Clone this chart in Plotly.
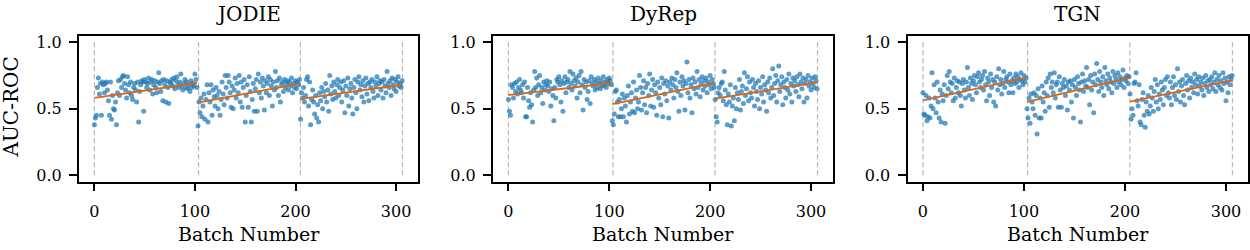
import numpy as np
import plotly.graph_objects as go

models = ["JODIE", "DyRep", "TGN"]

# AUC-ROC per batch, three training segments per model
jodie_seg1 = [0.38, 0.43, 0.45, 0.66, 0.73, 0.61, 0.69, 0.45, 0.70, 0.68,
              0.62, 0.69, 0.70, 0.64, 0.56, 0.45, 0.70, 0.42, 0.60, 0.50,
              0.49, 0.55, 0.38, 0.62, 0.71, 0.60, 0.72, 0.66, 0.74, 0.75,
              0.69, 0.64, 0.58, 0.74, 0.68, 0.62, 0.70, 0.60, 0.57, 0.66,
              0.69, 0.64, 0.55, 0.70, 0.40, 0.63, 0.68, 0.71, 0.70, 0.48,
              0.72, 0.70, 0.66, 0.69, 0.73, 0.64, 0.70, 0.72, 0.61, 0.68,
              0.71, 0.66, 0.62, 0.70, 0.77, 0.69, 0.63, 0.71, 0.56, 0.72,
              0.68, 0.55, 0.71, 0.66, 0.54, 0.70, 0.69, 0.72, 0.67, 0.73,
              0.65, 0.71, 0.74, 0.68, 0.66, 0.70, 0.76, 0.67, 0.64, 0.69,
              0.72, 0.66, 0.70, 0.65, 0.68, 0.63, 0.71, 0.66, 0.69, 0.67,
              0.76, 0.72, 0.66]
jodie_seg2 = [0.37, 0.55, 0.47, 0.58, 0.44, 0.52, 0.61, 0.42, 0.57, 0.68,
              0.40, 0.62, 0.55, 0.68, 0.45, 0.64, 0.59, 0.52, 0.66, 0.60,
              0.50, 0.63, 0.45, 0.57, 0.70, 0.61, 0.53, 0.75, 0.66, 0.58,
              0.75, 0.70, 0.62, 0.51, 0.67, 0.50, 0.64, 0.73, 0.58, 0.69,
              0.62, 0.75, 0.55, 0.70, 0.51, 0.66, 0.72, 0.40, 0.60, 0.68,
              0.51, 0.74, 0.63, 0.40, 0.57, 0.69, 0.48, 0.65, 0.72, 0.48,
              0.76, 0.62, 0.70, 0.58, 0.73, 0.67, 0.49, 0.71, 0.62, 0.69,
              0.74, 0.60, 0.72, 0.67, 0.52, 0.70, 0.64, 0.78, 0.66, 0.71,
              0.60, 0.73, 0.55, 0.68, 0.70, 0.63, 0.72, 0.66, 0.69, 0.71,
              0.64, 0.70, 0.67, 0.73, 0.62, 0.69, 0.66, 0.71, 0.65, 0.70,
              0.68, 0.72]
jodie_seg3 = [0.42, 0.62, 0.58, 0.66, 0.55, 0.60, 0.72, 0.74, 0.52, 0.70,
              0.38, 0.57, 0.64, 0.55, 0.46, 0.60, 0.43, 0.53, 0.40, 0.62,
              0.56, 0.66, 0.50, 0.63, 0.59, 0.69, 0.55, 0.64, 0.48, 0.75,
              0.61, 0.67, 0.57, 0.70, 0.63, 0.58, 0.68, 0.72, 0.60, 0.66,
              0.70, 0.55, 0.64, 0.71, 0.47, 0.67, 0.60, 0.73, 0.52, 0.65,
              0.69, 0.58, 0.46, 0.66, 0.72, 0.62, 0.50, 0.70, 0.74, 0.64,
              0.68, 0.59, 0.71, 0.55, 0.67, 0.73, 0.61, 0.69, 0.56, 0.70,
              0.66, 0.72, 0.63, 0.58, 0.70, 0.67, 0.74, 0.60, 0.69, 0.71,
              0.64, 0.70, 0.58, 0.72, 0.67, 0.62, 0.78, 0.69, 0.66, 0.71,
              0.60, 0.73, 0.68, 0.65, 0.72, 0.63, 0.70, 0.74, 0.67, 0.69,
              0.66, 0.71]

dyrep_seg1 = [0.57, 0.48, 0.45, 0.68, 0.66, 0.58, 0.69, 0.63, 0.70, 0.61,
              0.66, 0.72, 0.64, 0.62, 0.68, 0.58, 0.70, 0.44, 0.44, 0.66,
              0.56, 0.51, 0.62, 0.53, 0.40, 0.64, 0.78, 0.66, 0.73, 0.60,
              0.68, 0.75, 0.62, 0.66, 0.54, 0.70, 0.64, 0.68, 0.71, 0.67,
              0.63, 0.70, 0.52, 0.65, 0.60, 0.41, 0.66, 0.58, 0.72, 0.70,
              0.74, 0.68, 0.55, 0.71, 0.48, 0.69, 0.74, 0.62, 0.70, 0.72,
              0.66, 0.78, 0.69, 0.64, 0.76, 0.71, 0.67, 0.73, 0.58, 0.70,
              0.75, 0.62, 0.78, 0.68, 0.49, 0.72, 0.66, 0.70, 0.57, 0.63,
              0.71, 0.54, 0.74, 0.69, 0.67, 0.72, 0.64, 0.70, 0.66, 0.73,
              0.69, 0.65, 0.71, 0.67, 0.74, 0.68, 0.70, 0.66, 0.72, 0.69,
              0.73, 0.71, 0.68]
dyrep_seg2 = [0.41, 0.38, 0.46, 0.63, 0.64, 0.55, 0.44, 0.57, 0.44, 0.50,
              0.61, 0.44, 0.58, 0.52, 0.40, 0.60, 0.67, 0.46, 0.55, 0.62,
              0.48, 0.70, 0.47, 0.58, 0.64, 0.50, 0.55, 0.75, 0.66, 0.49,
              0.62, 0.71, 0.53, 0.66, 0.47, 0.69, 0.60, 0.76, 0.52, 0.64,
              0.72, 0.51, 0.68, 0.62, 0.45, 0.70, 0.58, 0.66, 0.53, 0.73,
              0.44, 0.69, 0.61, 0.71, 0.56, 0.67, 0.43, 0.70, 0.64, 0.73,
              0.68, 0.58, 0.72, 0.66, 0.77, 0.63, 0.48, 0.70, 0.60, 0.74,
              0.67, 0.71, 0.49, 0.69, 0.85, 0.62, 0.72, 0.58, 0.68, 0.47,
              0.73, 0.65, 0.70, 0.61, 0.78, 0.66, 0.72, 0.59, 0.69, 0.74,
              0.64, 0.71, 0.67, 0.73, 0.62, 0.70, 0.68, 0.75, 0.65, 0.72,
              0.69, 0.66]
dyrep_seg3 = [0.57, 0.44, 0.40, 0.62, 0.66, 0.60, 0.69, 0.70, 0.56, 0.78,
              0.64, 0.53, 0.38, 0.61, 0.55, 0.68, 0.37, 0.52, 0.58, 0.41,
              0.66, 0.50, 0.62, 0.57, 0.72, 0.49, 0.63, 0.67, 0.54, 0.77,
              0.60, 0.65, 0.74, 0.56, 0.70, 0.62, 0.58, 0.72, 0.66, 0.52,
              0.69, 0.63, 0.57, 0.71, 0.50, 0.66, 0.61, 0.74, 0.55, 0.68,
              0.64, 0.48, 0.70, 0.62, 0.73, 0.58, 0.66, 0.80, 0.60, 0.69,
              0.75, 0.55, 0.71, 0.82, 0.63, 0.68, 0.74, 0.53, 0.70, 0.66,
              0.58, 0.72, 0.64, 0.76, 0.61, 0.69, 0.55, 0.73, 0.67, 0.71,
              0.63, 0.74, 0.68, 0.59, 0.76, 0.70, 0.65, 0.73, 0.55, 0.69,
              0.72, 0.58, 0.75, 0.67, 0.70, 0.64, 0.73, 0.69, 0.66, 0.74,
              0.71, 0.65]

tgn_seg1 = [0.62, 0.46, 0.45, 0.60, 0.41, 0.44, 0.58, 0.43, 0.52, 0.77,
            0.50, 0.68, 0.58, 0.47, 0.70, 0.55, 0.43, 0.64, 0.40, 0.61,
            0.56, 0.68, 0.39, 0.60, 0.75, 0.65, 0.78, 0.70, 0.62, 0.69,
            0.56, 0.73, 0.58, 0.66, 0.71, 0.62, 0.70, 0.60, 0.52, 0.69,
            0.72, 0.64, 0.58, 0.70, 0.81, 0.66, 0.60, 0.73, 0.69, 0.57,
            0.71, 0.75, 0.68, 0.62, 0.74, 0.77, 0.70, 0.66, 0.72, 0.75,
            0.64, 0.78, 0.68, 0.56, 0.73, 0.70, 0.60, 0.76, 0.66, 0.72,
            0.55, 0.70, 0.52, 0.74, 0.64, 0.80, 0.68, 0.72, 0.61, 0.69,
            0.78, 0.66, 0.72, 0.74, 0.70, 0.62, 0.76, 0.68, 0.71, 0.62,
            0.73, 0.69, 0.76, 0.70, 0.74, 0.66, 0.72, 0.77, 0.71, 0.68,
            0.75, 0.70, 0.73]
tgn_seg2 = [0.50, 0.43, 0.58, 0.39, 0.61, 0.55, 0.50, 0.62, 0.45, 0.60,
            0.31, 0.65, 0.43, 0.58, 0.43, 0.67, 0.55, 0.62, 0.48, 0.70,
            0.60, 0.73, 0.51, 0.76, 0.66, 0.70, 0.62, 0.77, 0.58, 0.68,
            0.70, 0.51, 0.74, 0.64, 0.51, 0.69, 0.66, 0.72, 0.60, 0.67,
            0.49, 0.70, 0.64, 0.71, 0.55, 0.68, 0.43, 0.72, 0.66, 0.60,
            0.74, 0.69, 0.64, 0.40, 0.70, 0.76, 0.63, 0.71, 0.67, 0.81,
            0.66, 0.72, 0.53, 0.75, 0.64, 0.70, 0.47, 0.76, 0.68, 0.84,
            0.72, 0.63, 0.78, 0.70, 0.66, 0.74, 0.60, 0.81, 0.71, 0.68,
            0.76, 0.65, 0.73, 0.70, 0.62, 0.78, 0.69, 0.75, 0.72, 0.66,
            0.77, 0.70, 0.74, 0.68, 0.72, 0.79, 0.66, 0.73, 0.71, 0.75,
            0.69, 0.74]
tgn_seg3 = [0.61, 0.42, 0.50, 0.45, 0.69, 0.70, 0.77, 0.56, 0.52, 0.68,
            0.40, 0.38, 0.57, 0.62, 0.45, 0.36, 0.55, 0.48, 0.60, 0.46,
            0.52, 0.66, 0.58, 0.48, 0.63, 0.72, 0.55, 0.68, 0.50, 0.61,
            0.57, 0.70, 0.64, 0.53, 0.66, 0.72, 0.60, 0.74, 0.62, 0.58,
            0.70, 0.53, 0.66, 0.74, 0.60, 0.68, 0.57, 0.80, 0.63, 0.70,
            0.55, 0.67, 0.72, 0.60, 0.53, 0.69, 0.75, 0.64, 0.71, 0.58,
            0.73, 0.66, 0.70, 0.62, 0.76, 0.68, 0.72, 0.61, 0.74, 0.67,
            0.70, 0.64, 0.73, 0.60, 0.69, 0.75, 0.66, 0.71, 0.63, 0.72,
            0.68, 0.74, 0.65, 0.70, 0.77, 0.63, 0.72, 0.68, 0.75, 0.66,
            0.71, 0.64, 0.77, 0.69, 0.73, 0.56, 0.70, 0.62, 0.74, 0.68,
            0.72, 0.75]

segments = {
    "JODIE": [jodie_seg1, jodie_seg2, jodie_seg3],
    "DyRep": [dyrep_seg1, dyrep_seg2, dyrep_seg3],
    "TGN": [tgn_seg1, tgn_seg2, tgn_seg3],
}

# linear trend (start, end) per segment
trend_jodie = [(0.581, 0.693), (0.546, 0.688), (0.573, 0.680)]
trend_dyrep = [(0.603, 0.693), (0.534, 0.693), (0.576, 0.698)]
trend_tgn = [(0.563, 0.732), (0.551, 0.732), (0.553, 0.713)]
trends = {"JODIE": trend_jodie, "DyRep": trend_dyrep, "TGN": trend_tgn}

segment_boundaries = [0, 103.6, 204.8, 306.4]
x_ticks = [0, 100, 200, 300]
y_ticks = [0.0, 0.5, 1.0]
y_tick_text = ["0.0", "0.5", "1.0"]

W, H = 1250, 250
# axes boxes in pixels (left, right), shared top/bottom
boxes = [(79, 418), (493, 833), (907.5, 1248)]
box_top, box_bottom = 33.3, 183.3

FONT = "DejaVu Serif"
BLUE = "#1f77b4"
ORANGE = "#dd6512"

fig = go.Figure()
layout = dict(
    width=W, height=H, margin=dict(l=0, r=0, t=0, b=0),
    paper_bgcolor="white", plot_bgcolor="white", showlegend=False,
    font=dict(family=FONT, color="black", size=16),
)
annotations = []
shapes = []

for i, m in enumerate(models):
    sfx = "" if i == 0 else str(i + 1)
    xa, ya = "x" + sfx, "y" + sfx
    l, r = boxes[i]
    layout["xaxis" + sfx] = dict(
        domain=[l / W, r / W], anchor=ya, range=[-15.3, 321.8],
        tickvals=x_ticks, ticks="outside", ticklen=7, tickwidth=1.5,
        tickcolor="black", showline=True, linewidth=2, linecolor="black",
        mirror=True, showgrid=False, zeroline=False,
        tickfont=dict(family=FONT, size=16), ticklabelstandoff=7,
    )
    layout["yaxis" + sfx] = dict(
        domain=[1 - box_bottom / H, 1 - box_top / H], anchor=xa,
        range=[-0.05, 1.05], tickvals=y_ticks, ticktext=y_tick_text,
        ticks="outside", ticklen=8, tickwidth=1.5, tickcolor="black",
        showline=True, linewidth=2, linecolor="black", mirror=True,
        showgrid=False, zeroline=False,
        tickfont=dict(family=FONT, size=16), ticklabelstandoff=4,
    )
    # dashed separators
    for b in segment_boundaries:
        shapes.append(dict(type="line", xref=xa, yref=ya, x0=b, x1=b, y0=0, y1=1,
                           line=dict(color="#b8b8b8", width=1.2, dash="5px,3px"),
                           layer="below"))
    # scatter of batches
    start = 0
    for k, seg in enumerate(segments[m]):
        xs = np.arange(start, start + len(seg))
        fig.add_trace(go.Scatter(
            x=xs, y=seg, mode="markers", xaxis=xa, yaxis=ya,
            marker=dict(size=5, color=BLUE, opacity=0.72, line=dict(width=0)),
            hoverinfo="skip"))
        start += len(seg)
    start = 0
    for k, seg in enumerate(segments[m]):
        x0, x1 = start, start + len(seg) - 1
        y0, y1 = trends[m][k]
        fig.add_trace(go.Scatter(
            x=[x0, x1], y=[y0, y1], mode="lines", xaxis=xa, yaxis=ya,
            line=dict(color=ORANGE, width=1.8), hoverinfo="skip"))
        start += len(seg)
    # titles
    annotations.append(dict(text=m, x=(l + r) / 2 / W, y=1 - 11 / H,
                            xref="paper", yref="paper", showarrow=False,
                            xanchor="center", yanchor="middle",
                            font=dict(family=FONT, size=20)))
    annotations.append(dict(text="Batch Number", x=(l + r) / 2 / W, y=1 - 237 / H,
                            xref="paper", yref="paper", showarrow=False,
                            xanchor="center", yanchor="middle",
                            font=dict(family=FONT, size=19)))

annotations.append(dict(text="AUC-ROC", x=11 / W, y=1 - 107 / H, xref="paper",
                        yref="paper", showarrow=False, textangle=-90,
                        xanchor="center", yanchor="middle",
                        font=dict(family=FONT, size=20)))

layout["annotations"] = annotations
layout["shapes"] = shapes
fig.update_layout(**layout)
fig.write_html(
    "out.html",
    config={"displayModeBar": False},
    post_script="document.body.style.margin='0';document.body.style.overflow='hidden';",
)
